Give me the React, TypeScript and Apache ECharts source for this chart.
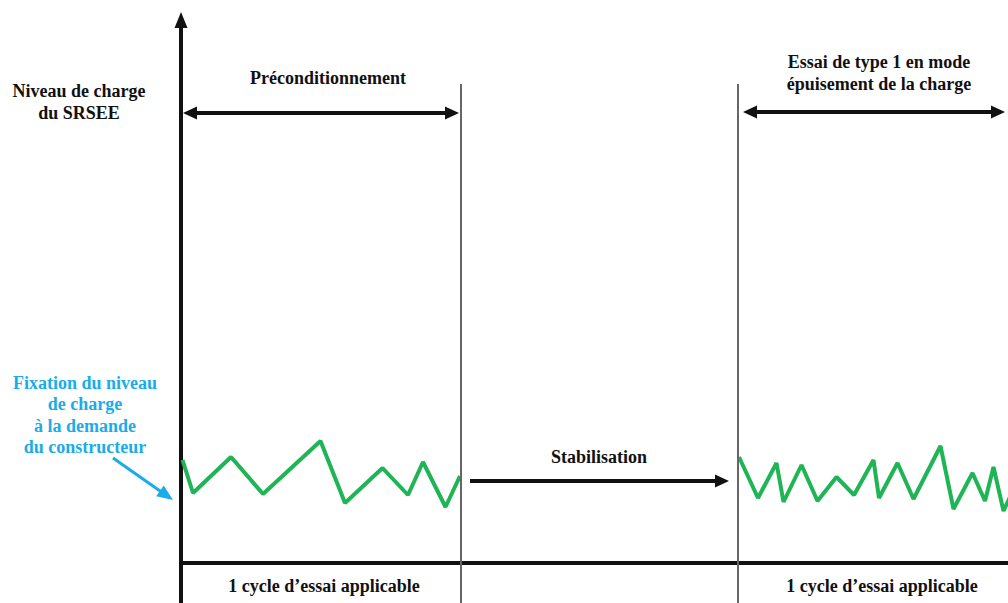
import React, { useEffect, useRef } from "react";
import * as echarts from "echarts";

// Time (x) and charge level (y) readings of the two green traces
const preTime = [1.5, 12, 50, 82, 139.5, 164, 201.5, 227, 242, 264.5, 279];
const preLevel = [103, 70, 106, 69, 122, 60, 95, 68, 101, 56, 87];
const testTime = [558, 577, 595.5, 602.5, 620.5, 636.5, 655.5, 673, 692.5, 698, 716.5, 732.5, 759.5, 772.5, 791.5, 804, 812.5, 822.5, 829];
const testLevel = [106, 65, 100, 61, 98, 62, 86, 68, 103, 65, 100, 64, 117, 54, 90, 62, 96, 52, 66];

// Phase boundaries on the time axis
const phaseStart = 0;
const phaseEnd1 = 280;
const phaseEnd2 = 557;
const timeMin = -181;
const timeMax = 827;
const levelMin = -40;
const levelMax = 543;

const FONT = '"Liberation Serif", "Times New Roman", serif';
const BLUE = "#1aace8";
const GREEN = "#1fb455";

export default function App() {
  const ref = useRef<HTMLDivElement>(null);
  useEffect(() => {
    if (!ref.current) return;
    const chart = echarts.init(ref.current, undefined, { renderer: "svg" });
    const zip = (xs: number[], ys: number[]) => xs.map((x, i) => [x, ys[i]]);
    const arrow = { symbol: "triangle", symbolSize: [13, 14] };
    const none = { symbol: "none" };
    const black = { color: "#111", width: 4, type: "solid" };
    const axisStyle = { color: "#111", width: 4, type: "solid" };
    const gray = { color: "#666", width: 2, type: "solid" };
    const txt = (text: string, x: number, y: number, fill = "#111", lh = 22) => ({
      type: "text",
      x,
      y,
      style: {
        text,
        fill,
        fontSize: 18,
        fontWeight: "bold",
        fontFamily: FONT,
        align: "center",
        verticalAlign: "middle",
        lineHeight: lh,
      },
    });
    chart.setOption({
      animation: false,
      grid: { left: 0, right: 0, top: 20, bottom: 0, containLabel: false },
      xAxis: {
        type: "value",
        min: timeMin,
        max: timeMax,
        axisLine: { show: false },
        axisTick: { show: false },
        axisLabel: { show: false },
        splitLine: { show: false },
      },
      yAxis: {
        type: "value",
        min: levelMin,
        max: levelMax,
        axisLine: {
          show: true,
          onZero: true,
          symbol: ["none", "triangle"],
          symbolSize: [13, 16],
          lineStyle: { color: "#111", width: 4 },
        },
        axisTick: { show: false },
        axisLabel: { show: false },
        splitLine: { show: false },
      },
      series: [
        {
          type: "line",
          data: [],
          silent: true,
          markLine: {
            silent: true,
            animation: false,
            label: { show: false },
            symbol: ["none", "none"],
            data: [
              // horizontal time axis
              [{ coord: [phaseStart, 0], lineStyle: axisStyle, ...none }, { coord: [timeMax, 0], ...none }],
              // phase boundaries
              [{ coord: [phaseEnd1, levelMin], lineStyle: gray, ...none }, { coord: [phaseEnd1, 479], ...none }],
              [{ coord: [phaseEnd2, levelMin], lineStyle: gray, ...none }, { coord: [phaseEnd2, 479], ...none }],
              // préconditionnement double arrow
              [{ coord: [9, 450], lineStyle: black, ...arrow }, { coord: [271, 450], ...arrow }],
              // essai double arrow
              [{ coord: [569, 451], lineStyle: black, ...arrow }, { coord: [817, 451], ...arrow }],
              // stabilisation arrow
              [{ coord: [289, 82], lineStyle: black, ...none }, { coord: [541, 82], ...arrow }],
              // blue annotation arrow
              [
                { coord: [-68, 105], lineStyle: { color: BLUE, width: 3, type: "solid" }, ...none },
                { coord: [-14.5, 67.6], symbol: "triangle", symbolSize: [13, 16] },
              ],
            ],
          },
        },
        {
          type: "line",
          data: zip(preTime, preLevel),
          symbol: "none",
          lineStyle: { color: GREEN, width: 4 },
          silent: true,
        },
        {
          type: "line",
          data: zip(testTime, testLevel),
          symbol: "none",
          lineStyle: { color: GREEN, width: 4 },
          silent: true,
        },
      ],
      graphic: [
        txt("Niveau de charge\ndu SRSEE", 79, 102),
        txt("Préconditionnement", 328, 78),
        txt("Essai de type 1 en mode\népuisement de la charge", 879, 73, "#111", 22),
        txt("Stabilisation", 599, 457),
        txt("1 cycle d’essai applicable", 324, 586),
        txt("1 cycle d’essai applicable", 882, 586),
        txt("Fixation du niveau\nde charge\nà la demande\ndu constructeur", 85, 415, BLUE, 21.3),
      ],
    });
    return () => chart.dispose();
  }, []);
  return (
    <div
      ref={ref}
      style={{ position: "absolute", left: 0, top: 0, width: 1008, height: 603, background: "#fff" }}
    />
  );
}
